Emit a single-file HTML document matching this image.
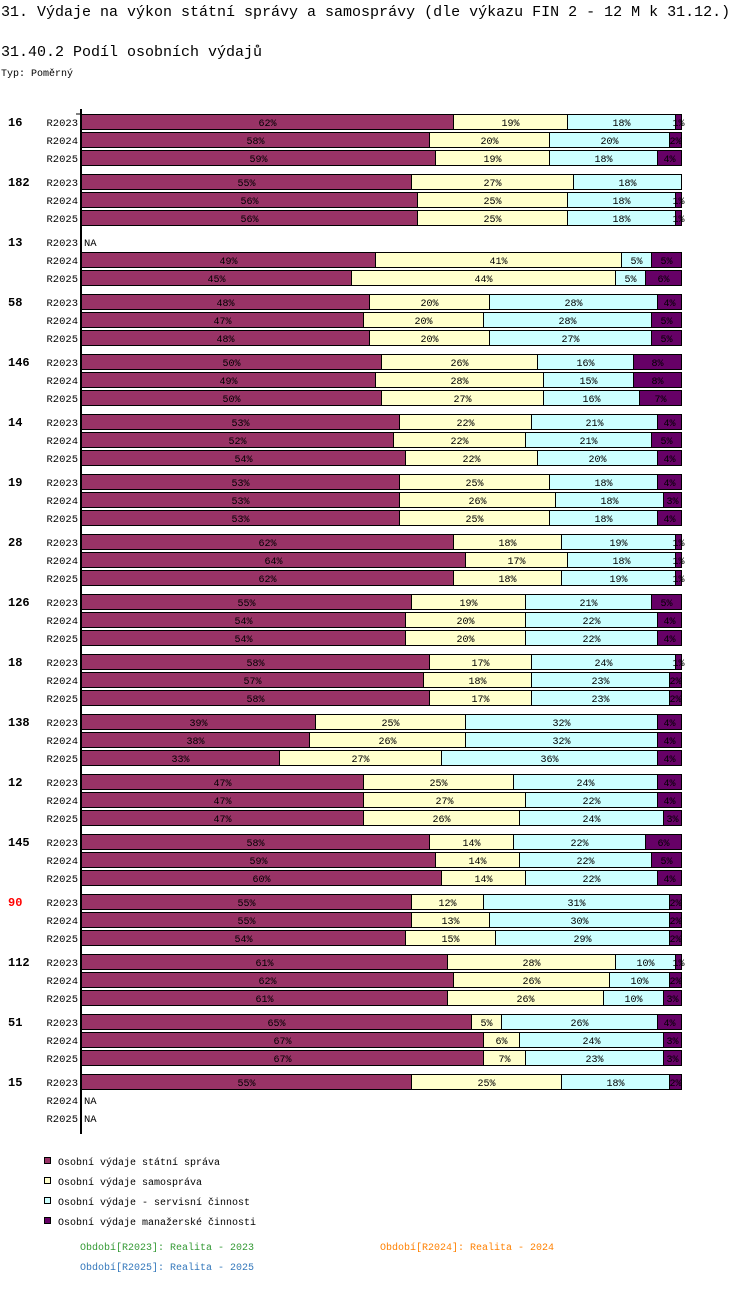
<!DOCTYPE html>
<html><head><meta charset="utf-8"><style>
body{margin:0;background:#fff;width:750px;height:1304px;overflow:hidden;font-family:"Liberation Mono",monospace;}
svg text{font-family:"Liberation Mono",monospace;}
</style></head><body>
<svg id="c" width="750" height="1304">
<text x="1" y="16" font-size="15">31. Výdaje na výkon státní správy a samosprávy (dle výkazu FIN 2 - 12 M k 31.12.)</text>
<text x="1" y="56" font-size="15">31.40.2 Podíl osobních výdajů</text>
<text x="1" y="76" font-size="10">Typ: Poměrný</text>
</svg>
<script>
const groups=["16","182","13","58","146","14","19","28","126","18","138","12","145","90","112","51","15"];
const years=["R2023","R2024","R2025"];
const values=[
[[62,19,18,1],[58,20,20,2],[59,19,18,4]],
[[55,27,18,0],[56,25,18,1],[56,25,18,1]],
[null,[49,41,5,5],[45,44,5,6]],
[[48,20,28,4],[47,20,28,5],[48,20,27,5]],
[[50,26,16,8],[49,28,15,8],[50,27,16,7]],
[[53,22,21,4],[52,22,21,5],[54,22,20,4]],
[[53,25,18,4],[53,26,18,3],[53,25,18,4]],
[[62,18,19,1],[64,17,18,1],[62,18,19,1]],
[[55,19,21,5],[54,20,22,4],[54,20,22,4]],
[[58,17,24,1],[57,18,23,2],[58,17,23,2]],
[[39,25,32,4],[38,26,32,4],[33,27,36,4]],
[[47,25,24,4],[47,27,22,4],[47,26,24,3]],
[[58,14,22,6],[59,14,22,5],[60,14,22,4]],
[[55,12,31,2],[55,13,30,2],[54,15,29,2]],
[[61,28,10,1],[62,26,10,2],[61,26,10,3]],
[[65,5,26,4],[67,6,24,3],[67,7,23,3]],
[[55,25,18,2],null,null]
];
const seriesNames=["Osobní výdaje státní správa","Osobní výdaje samospráva","Osobní výdaje - servisní činnost","Osobní výdaje manažerské činnosti"];
const colors=["#993366","#ffffcc","#ccffff","#660066"];
const NS="http://www.w3.org/2000/svg";
const svg=document.getElementById('c');
function mk(t,a,p){const e=document.createElementNS(NS,t);for(const k in a)e.setAttribute(k,a[k]);(p||svg).appendChild(e);return e;}
const X0=81,W=600,Y0=114,ROW=18,GRP=60;
const xs=v=>X0+v/100*W;
groups.forEach((g,gi)=>{
  const gy=Y0+gi*GRP;
  const gl=mk('text',{x:8,y:gy+12,'font-size':12,'font-weight':'bold',fill:g==="90"?"#ff0000":"#000"});
  gl.textContent=g;
  
  
  years.forEach((yr,yi)=>{
    const y=gy+yi*ROW;
    const yl=mk('text',{x:78,y:y+12,'font-size':10.5,'text-anchor':'end'});
    yl.textContent=yr;
    
    
    const row=values[gi][yi];
    if(!row){const na=mk('text',{x:84,y:y+12,'font-size':10.5});na.textContent="NA";
      
      return;}
    const tot=row.reduce((a,b)=>a+b,0);let acc=0;
    row.forEach((v,si)=>{
      if(v<=0)return;
      const x1=xs(acc/tot*100),x2=xs((acc+v)/tot*100);acc+=v;
      const r=mk('rect',{x:x1+0.5,y:y+0.5,width:x2-x1,height:15,fill:colors[si],stroke:"#000","stroke-width":1});
      
      
      const t=mk('text',{x:(x1+x2)/2+0.5,y:y+12,'font-size':10,'text-anchor':'middle'});
      t.textContent=v+"%";
      
      
    });
  });
});
const ax=mk('line',{x1:81,y1:109,x2:81,y2:1134,stroke:"#000","stroke-width":2});


mk('line',{x1:76,y1:114,x2:81,y2:114,stroke:"#000"});
seriesNames.forEach((n,i)=>{
  const y=1157+i*20;
  const r=mk('rect',{x:44.5,y:y+0.5,width:6,height:6,fill:colors[i],stroke:"#000"});
  
  
  const t=mk('text',{x:58,y:y+8,'font-size':10});
  t.textContent=n;
  
  
});
const periods=[["Období[R2023]: Realita - 2023",80,1250,"#339933"],["Období[R2024]: Realita - 2024",380,1250,"#ff8000"],["Období[R2025]: Realita - 2025",80,1270,"#3377bb"]];
periods.forEach(p=>{const t=mk('text',{x:p[1],y:p[2],'font-size':10,fill:p[3]});t.textContent=p[0];
  
  });
</script>
</body></html>
